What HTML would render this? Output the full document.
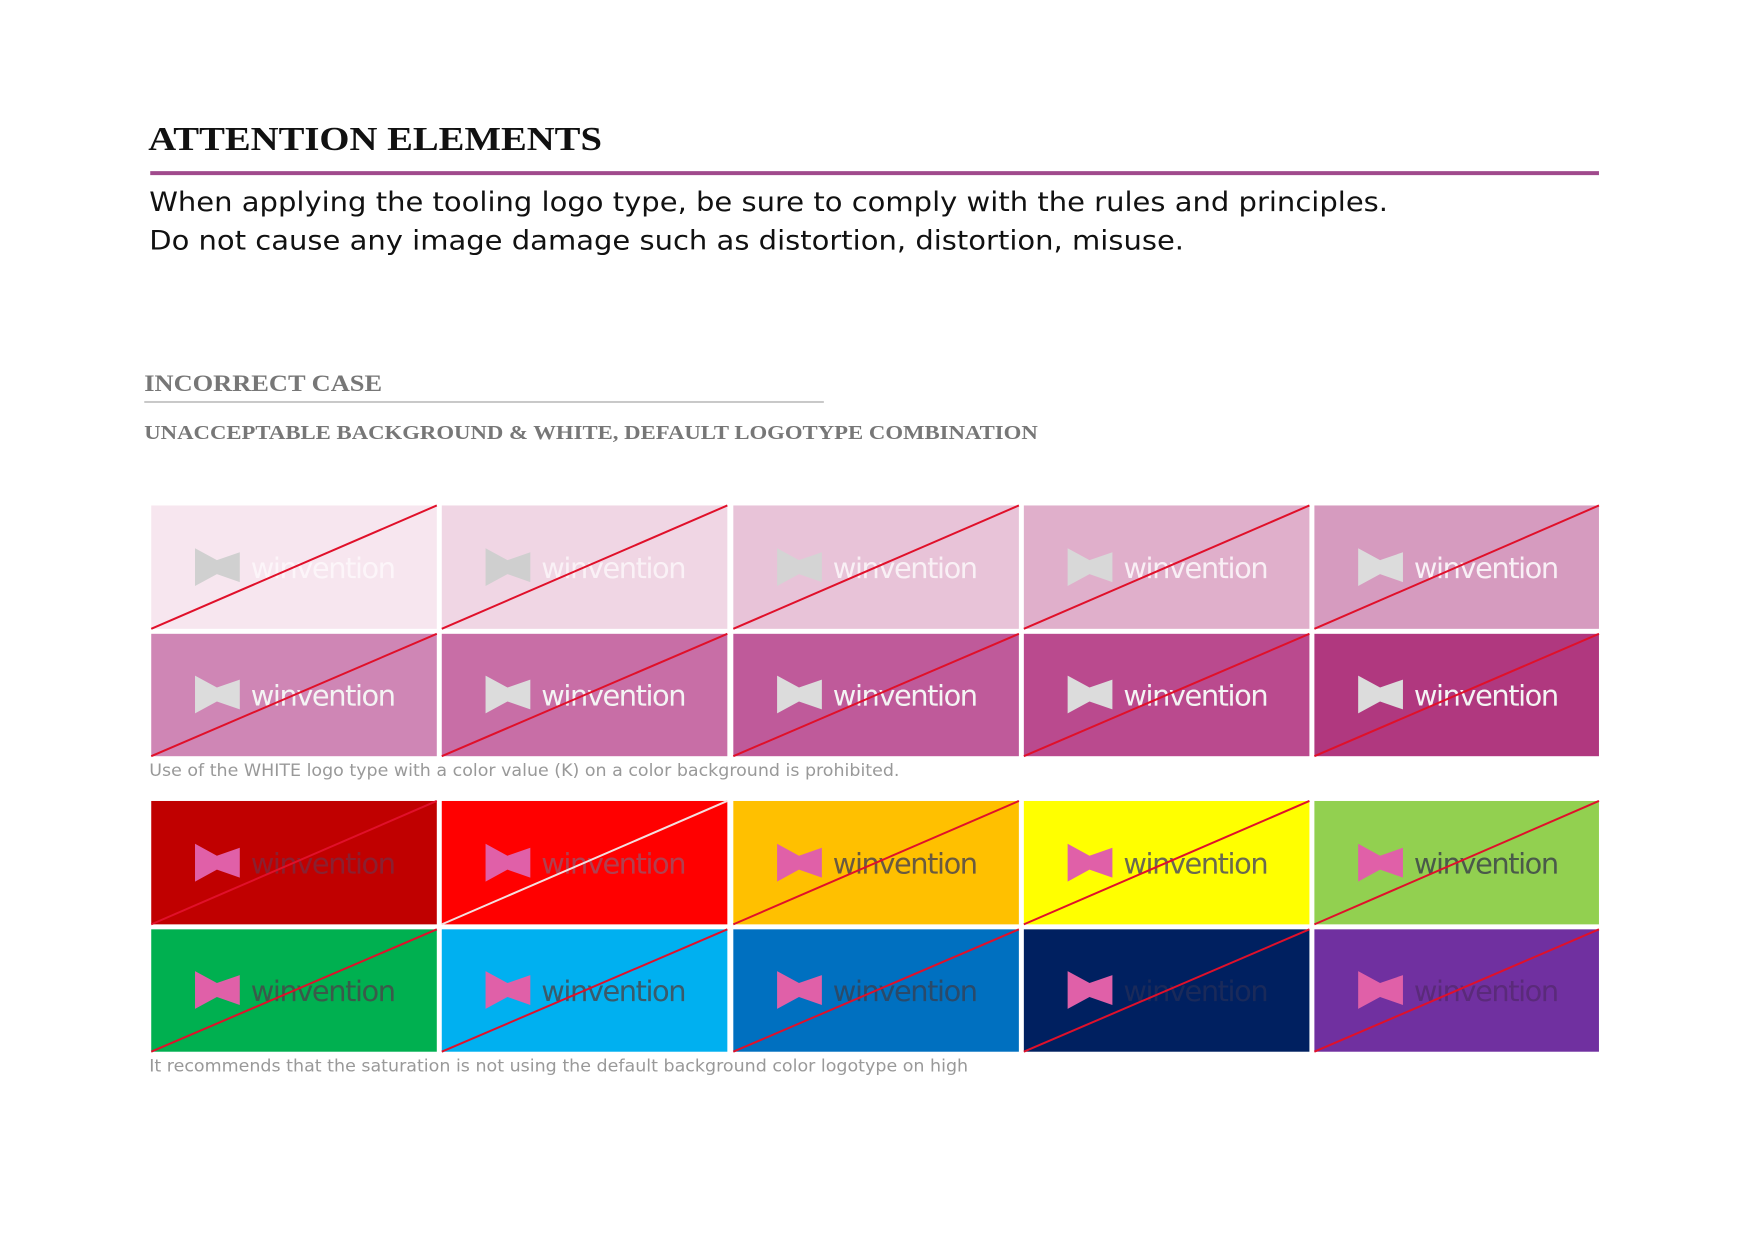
<!DOCTYPE html>
<html><head><meta charset="utf-8"><style>
html,body{margin:0;padding:0;background:#fff;}
svg{display:block;}
</style></head><body>
<svg width="1754" height="1240" viewBox="0 0 1754 1240" xmlns="http://www.w3.org/2000/svg">
<defs>
<g id="icon">
<path d="M0 0 L22 12 L45 4 L45 34 L22 26 L0 38 Z"/>
</g>
</defs>
<g transform="translate(-1,0) scale(0.995)">
<text x="150" y="151" font-family="Liberation Serif, serif" font-weight="bold" font-size="34" textLength="456" lengthAdjust="spacingAndGlyphs" fill="#111">ATTENTION ELEMENTS</text>
<rect x="152" y="172" width="1456" height="4" fill="#a04a8c"/>
<text x="151" y="212" font-family="DejaVu Sans, sans-serif" font-size="27" textLength="1245" lengthAdjust="spacingAndGlyphs" fill="#111">When applying the tooling logo type, be sure to comply with the rules and principles.</text>
<text x="151" y="251" font-family="DejaVu Sans, sans-serif" font-size="27" textLength="1040" lengthAdjust="spacingAndGlyphs" fill="#111">Do not cause any image damage such as distortion, distortion, misuse.</text>
<text x="146" y="393" font-family="Liberation Serif, serif" font-weight="bold" font-size="23" textLength="239" lengthAdjust="spacingAndGlyphs" fill="#777">INCORRECT CASE</text>
<rect x="146" y="403" width="683" height="2" fill="#c8c8c8"/>
<text x="146" y="441" font-family="Liberation Serif, serif" font-weight="bold" font-size="20" textLength="898" lengthAdjust="spacingAndGlyphs" fill="#777">UNACCEPTABLE BACKGROUND &amp; WHITE, DEFAULT LOGOTYPE COMBINATION</text>

<g font-family="DejaVu Sans, sans-serif" font-size="29">
<g transform="translate(153,508)"><rect width="287" height="124" fill="#f7e6ef"/><use href="#icon" x="44" y="43" fill="#d0d0d0"/><text x="100" y="73" fill="#fff" fill-opacity="0.6" textLength="146">winvention</text><line x1="0" y1="124" x2="287" y2="0" stroke="#e0102a" stroke-width="2"/></g>
<g transform="translate(445,508)"><rect width="287" height="124" fill="#f0d6e4"/><use href="#icon" x="44" y="43" fill="#cfcfcf"/><text x="100" y="73" fill="#fff" fill-opacity="0.65" textLength="146">winvention</text><line x1="0" y1="124" x2="287" y2="0" stroke="#e0102a" stroke-width="2"/></g>
<g transform="translate(738,508)"><rect width="287" height="124" fill="#e8c3d8"/><use href="#icon" x="44" y="43" fill="#d4d4d4"/><text x="100" y="73" fill="#fff" fill-opacity="0.75" textLength="146">winvention</text><line x1="0" y1="124" x2="287" y2="0" stroke="#e0102a" stroke-width="2"/></g>
<g transform="translate(1030,508)"><rect width="287" height="124" fill="#e0afcb"/><use href="#icon" x="44" y="43" fill="#d8d8d8"/><text x="100" y="73" fill="#fff" fill-opacity="0.8" textLength="146">winvention</text><line x1="0" y1="124" x2="287" y2="0" stroke="#e0102a" stroke-width="2"/></g>
<g transform="translate(1322,508)"><rect width="286" height="124" fill="#d69bbf"/><use href="#icon" x="44" y="43" fill="#dcdcdc"/><text x="100" y="73" fill="#fff" fill-opacity="0.85" textLength="146">winvention</text><line x1="0" y1="124" x2="286" y2="0" stroke="#e0102a" stroke-width="2"/></g>
<g transform="translate(153,637)"><rect width="287" height="123" fill="#cf86b5"/><use href="#icon" x="44" y="42" fill="#dcdcdc"/><text x="100" y="72" fill="#f4f4f4" textLength="146">winvention</text><line x1="0" y1="123" x2="287" y2="0" stroke="#e0102a" stroke-width="2"/></g>
<g transform="translate(445,637)"><rect width="287" height="123" fill="#c86ea6"/><use href="#icon" x="44" y="42" fill="#dcdcdc"/><text x="100" y="72" fill="#f4f4f4" textLength="146">winvention</text><line x1="0" y1="123" x2="287" y2="0" stroke="#e0102a" stroke-width="2"/></g>
<g transform="translate(738,637)"><rect width="287" height="123" fill="#bf5a9a"/><use href="#icon" x="44" y="42" fill="#dcdcdc"/><text x="100" y="72" fill="#f4f4f4" textLength="146">winvention</text><line x1="0" y1="123" x2="287" y2="0" stroke="#e0102a" stroke-width="2"/></g>
<g transform="translate(1030,637)"><rect width="287" height="123" fill="#ba4a8e"/><use href="#icon" x="44" y="42" fill="#dcdcdc"/><text x="100" y="72" fill="#f4f4f4" textLength="146">winvention</text><line x1="0" y1="123" x2="287" y2="0" stroke="#e0102a" stroke-width="2"/></g>
<g transform="translate(1322,637)"><rect width="286" height="123" fill="#b0387f"/><use href="#icon" x="44" y="42" fill="#dcdcdc"/><text x="100" y="72" fill="#f4f4f4" textLength="146">winvention</text><line x1="0" y1="123" x2="286" y2="0" stroke="#e0102a" stroke-width="2"/></g>
<g transform="translate(153,805)"><rect width="287" height="124" fill="#c00000"/><use href="#icon" x="44" y="43" fill="#e060a8"/><text x="100" y="73" fill="#8a2030" textLength="146">winvention</text><line x1="0" y1="124" x2="287" y2="0" stroke="#e0102a" stroke-width="2"/></g>
<g transform="translate(445,805)"><rect width="287" height="124" fill="#ff0000"/><use href="#icon" x="44" y="43" fill="#e060a8"/><text x="100" y="73" fill="#b04050" textLength="146">winvention</text><line x1="0" y1="124" x2="287" y2="0" stroke="#f4e0e0" stroke-width="2"/></g>
<g transform="translate(738,805)"><rect width="287" height="124" fill="#ffc000"/><use href="#icon" x="44" y="43" fill="#e060a8"/><text x="100" y="73" fill="#6a5a40" textLength="146">winvention</text><line x1="0" y1="124" x2="287" y2="0" stroke="#e0102a" stroke-width="2"/></g>
<g transform="translate(1030,805)"><rect width="287" height="124" fill="#ffff00"/><use href="#icon" x="44" y="43" fill="#e060a8"/><text x="100" y="73" fill="#6a6a50" textLength="146">winvention</text><line x1="0" y1="124" x2="287" y2="0" stroke="#e0102a" stroke-width="2"/></g>
<g transform="translate(1322,805)"><rect width="286" height="124" fill="#92d050"/><use href="#icon" x="44" y="43" fill="#e060a8"/><text x="100" y="73" fill="#4a5a4a" textLength="146">winvention</text><line x1="0" y1="124" x2="286" y2="0" stroke="#e0102a" stroke-width="2"/></g>
<g transform="translate(153,934)"><rect width="287" height="123" fill="#00b050"/><use href="#icon" x="44" y="42" fill="#e060a8"/><text x="100" y="72" fill="#3a5a4a" textLength="146">winvention</text><line x1="0" y1="123" x2="287" y2="0" stroke="#e0102a" stroke-width="2"/></g>
<g transform="translate(445,934)"><rect width="287" height="123" fill="#00b0f0"/><use href="#icon" x="44" y="42" fill="#e060a8"/><text x="100" y="72" fill="#3a5a6a" textLength="146">winvention</text><line x1="0" y1="123" x2="287" y2="0" stroke="#e0102a" stroke-width="2"/></g>
<g transform="translate(738,934)"><rect width="287" height="123" fill="#0070c0"/><use href="#icon" x="44" y="42" fill="#e060a8"/><text x="100" y="72" fill="#2a4a6a" textLength="146">winvention</text><line x1="0" y1="123" x2="287" y2="0" stroke="#e0102a" stroke-width="2"/></g>
<g transform="translate(1030,934)"><rect width="287" height="123" fill="#002060"/><use href="#icon" x="44" y="42" fill="#e060a8"/><text x="100" y="72" fill="#1a2a5a" textLength="146">winvention</text><line x1="0" y1="123" x2="287" y2="0" stroke="#e0102a" stroke-width="2"/></g>
<g transform="translate(1322,934)"><rect width="286" height="123" fill="#7030a0"/><use href="#icon" x="44" y="42" fill="#e060a8"/><text x="100" y="72" fill="#5a2a7a" textLength="146">winvention</text><line x1="0" y1="123" x2="286" y2="0" stroke="#e0102a" stroke-width="2"/></g>
</g>
<text x="151" y="780" font-family="DejaVu Sans, sans-serif" font-size="17" textLength="754" lengthAdjust="spacingAndGlyphs" fill="#999">Use of the WHITE logo type with a color value (K) on a color background is prohibited.</text>
<text x="151" y="1077" font-family="DejaVu Sans, sans-serif" font-size="17" textLength="823" lengthAdjust="spacingAndGlyphs" fill="#999">It recommends that the saturation is not using the default background color logotype on high</text>
</g>
</svg>
</body></html>
